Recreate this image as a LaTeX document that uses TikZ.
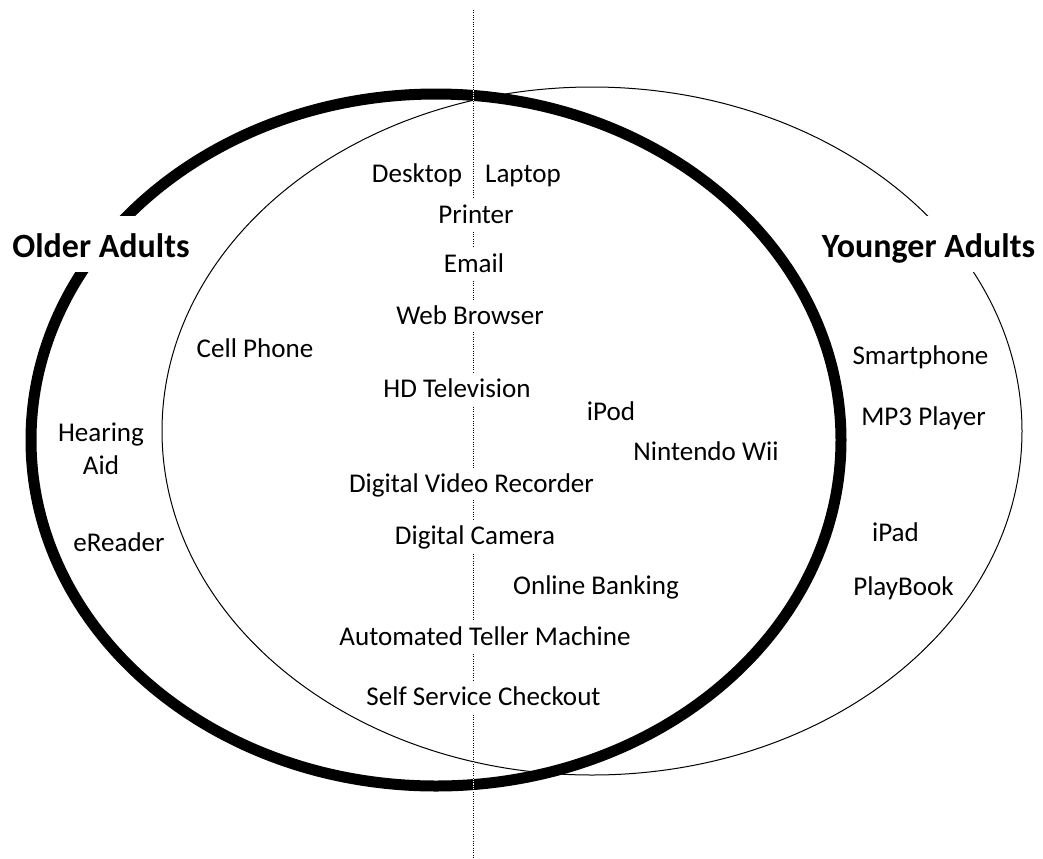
\documentclass[tikz,border=0pt]{standalone}
\usepackage{fontspec}
\setmainfont{Carlito}

\tikzset{every picture/.style={line width=0.75pt}}
\tikzset{
  item/.style={fill=white, inner xsep=1.5pt, inner ysep=2.25pt, text height=15.75pt, text depth=3.75pt, font=\fontsize{20.3}{24.75}\selectfont, anchor=base},
  group/.style={fill=white, inner xsep=3pt, inner ysep=5pt, text height=25.5pt, text depth=6.4pt, font=\fontsize{25.5}{30}\selectfont\bfseries, anchor=base}
}

\begin{document}
\begin{tikzpicture}[x=0.75pt,y=0.75pt,yscale=-1,xscale=1]
		\useasboundingbox (0,0) rectangle (1043,858);
		
		%Shape: Ellipse [older adults]
		\draw [line width=8.25pt] (436,440) ellipse [x radius=405, y radius=346];
		%Shape: Ellipse [younger adults]
		\draw (592,431) ellipse [x radius=430, y radius=344];
		%Dotted divider
		\coordinate (axistop) at (473,10);
		\coordinate (axisbot) at (473,858);
		\draw [white] (axistop) -- (axisbot);
		\draw [dash pattern={on 0.75pt off 1pt}] (axistop) -- (axisbot);
		
		\node [group] (older) at (101,257) {Older Adults};
		\node [group] (younger) at (928.5,257) {Younger Adults};
		
		\node [item] (desktop) at (417,182) {Desktop};
		\node [item] (laptop) at (523,182) {Laptop};
		\node [item] (printer) at (476,223) {Printer};
		\node [item] (email) at (474,272) {Email};
		\node [item] (browser) at (470,324) {Web Browser};
		\node [item] (hdtv) at (457,397) {HD Television};
		\node [item] (ipod) at (611,420) {iPod};
		\node [item] (wii) at (706,460) {Nintendo Wii};
		\node [item] (dvr) at (471.5,492) {Digital Video Recorder};
		\node [item] (camera) at (475,544) {Digital Camera};
		\node [item] (banking) at (596,594) {Online Banking};
		\node [item] (atm) at (485,645) {Automated Teller Machine};
		\node [item] (checkout) at (483.5,705) {Self Service Checkout};
		
		\node [item] (cellphone) at (255,357) {Cell Phone};
		\node [item, anchor=center, align=center, text height=, text depth=] (hearing) at (101,449) {Hearing\\Aid};
		\node [item] (ereader) at (119,551) {eReader};
		
		\node [item] (smartphone) at (920.5,364) {Smartphone};
		\node [item] (mp3) at (923.5,425) {MP3 Player};
		\node [item] (ipad) at (895.5,541) {iPad};
		\node [item] (playbook) at (903.5,595) {PlayBook};
		
	\end{tikzpicture}
\end{document}
